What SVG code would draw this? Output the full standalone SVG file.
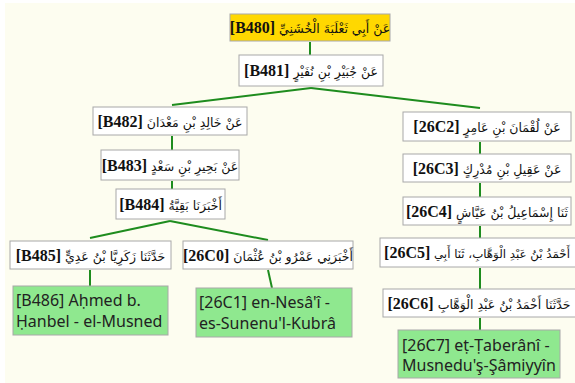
<svg xmlns="http://www.w3.org/2000/svg" width="575" height="383" viewBox="0 0 575 383">
  <style>
    .bg { fill: #fdfdf0; }
    .node rect { stroke: #a8a8a8; stroke-width: 1; fill: #ffffff; }
    .node.root rect { fill: #ffd800; }
    .node.book rect { fill: #8fe88f; }
    .lbl { direction: rtl; unicode-bidi: embed; text-anchor: middle; fill: #111; }
    .ar { font-family: "DejaVu Sans", sans-serif; font-size: 12.5px; font-weight: normal; }
    .ar.tight { font-size: 11.8px; }
    .id { font-family: "Liberation Serif", "Times New Roman", serif; font-size: 16px; font-weight: bold; }
    .book text { font-family: "Noto Sans", "Open Sans", sans-serif; font-size: 16px; fill: #222; }
    .edges line { stroke: #1e8c1e; stroke-width: 2; stroke-linecap: butt; }
  </style>

  <rect class="bg" x="5" y="3" width="570" height="380"/>

  <!-- connectors -->
  <g id="edges" class="edges">
    <line x1="310" y1="42" x2="310" y2="55"/>
    <line x1="311" y1="88" x2="172" y2="105"/>
    <line x1="311" y1="88" x2="480" y2="108"/>
    <line x1="172" y1="136" x2="172" y2="150"/>
    <line x1="172" y1="181" x2="172" y2="189"/>
    <line x1="170" y1="221" x2="90" y2="238"/>
    <line x1="170" y1="221" x2="268" y2="240"/>
    <line x1="90" y1="270" x2="90" y2="286"/>
    <line x1="268" y1="270" x2="272" y2="288"/>
    <line x1="480" y1="142" x2="480" y2="154"/>
    <line x1="480" y1="183" x2="480" y2="197"/>
    <line x1="480" y1="226" x2="480" y2="238"/>
    <line x1="480" y1="268" x2="480" y2="289"/>
    <line x1="480" y1="318" x2="480" y2="330"/>
  </g>

  <g id="B480" class="node root">
    <rect x="230" y="14" width="160" height="27"/>
    <text class="lbl" x="310" y="33"><tspan class="ar">عَنْ أَبِي ثَعْلَبَةَ الْخُشَنِيِّ </tspan><tspan class="id">[B480]</tspan></text>
  </g>
  <g id="B481" class="node">
    <rect x="239" y="55" width="144" height="31"/>
    <text class="lbl" x="311" y="76"><tspan class="ar">عَنْ جُبَيْرِ بْنِ نُفَيْرٍ </tspan><tspan class="id">[B481]</tspan></text>
  </g>
  <g id="B482" class="node">
    <rect x="93" y="107" width="154" height="28"/>
    <text class="lbl" x="170" y="127"><tspan class="ar">عَنْ خَالِدِ بْنِ مَعْدَانَ </tspan><tspan class="id">[B482]</tspan></text>
  </g>
  <g id="B483" class="node">
    <rect x="101" y="150" width="138" height="30"/>
    <text class="lbl" x="170" y="171"><tspan class="ar">عَنْ بَحِيرِ بْنِ سَعْدٍ </tspan><tspan class="id">[B483]</tspan></text>
  </g>
  <g id="B484" class="node">
    <rect x="116" y="189" width="109" height="30"/>
    <text class="lbl" x="170.5" y="210"><tspan class="ar">أَخْبَرَنَا بَقِيَّةُ </tspan><tspan class="id">[B484]</tspan></text>
  </g>
  <g id="B485" class="node">
    <rect x="10" y="241" width="161" height="28"/>
    <text class="lbl" x="90.5" y="261"><tspan class="ar">حَدَّثَنَا زَكَرِيَّا بْنُ عَدِيٍّ </tspan><tspan class="id">[B485]</tspan></text>
  </g>
  <g id="C26C0" class="node">
    <rect x="183" y="241" width="170" height="28"/>
    <text class="lbl" x="268" y="261"><tspan class="ar">أَخْبَرَنِي عَمْرُو بْنُ عُثْمَانَ </tspan><tspan class="id">[26C0]</tspan></text>
  </g>
  <g id="B486" class="node book">
    <rect x="13" y="286" width="155" height="49"/>
    <text x="16" y="306">[B486] Aḥmed b.</text>
    <text x="16" y="327">Ḥanbel - el-Musned</text>
  </g>
  <g id="C26C1" class="node book">
    <rect x="196" y="288" width="156" height="49"/>
    <text x="199" y="308">[26C1] en-Nesâ'î -</text>
    <text x="199" y="329">es-Sunenu'l-Kubrâ</text>
  </g>
  <g id="C26C2" class="node">
    <rect x="403" y="112" width="168" height="29"/>
    <text class="lbl" x="487" y="132"><tspan class="ar">عَنْ لُقْمَانَ بْنِ عَامِرٍ </tspan><tspan class="id">[26C2]</tspan></text>
  </g>
  <g id="C26C3" class="node">
    <rect x="403" y="154" width="168" height="28"/>
    <text class="lbl" x="487" y="174"><tspan class="ar">عَنْ عَقِيلِ بْنِ مُدْرِكٍ </tspan><tspan class="id">[26C3]</tspan></text>
  </g>
  <g id="C26C4" class="node">
    <rect x="403" y="197" width="168" height="28"/>
    <text class="lbl" x="487" y="217"><tspan class="ar">ثَنَا إِسْمَاعِيلُ بْنُ عَيَّاشٍ </tspan><tspan class="id">[26C4]</tspan></text>
  </g>
  <g id="C26C5" class="node">
    <rect x="380" y="238" width="200" height="29"/>
    <text class="lbl" x="477" y="258"><tspan class="ar tight">أَحْمَدُ بْنُ عَبْدِ الْوَهَّابِ، ثَنَا أَبِي </tspan><tspan class="id">[26C5]</tspan></text>
  </g>
  <g id="C26C6" class="node">
    <rect x="383" y="289" width="194" height="28"/>
    <text class="lbl" x="479" y="309"><tspan class="ar">حَدَّثَنَا أَحْمَدُ بْنُ عَبْدِ الْوَهَّابِ </tspan><tspan class="id">[26C6]</tspan></text>
  </g>
  <g id="C26C7" class="node book">
    <rect x="398" y="330" width="162" height="48"/>
    <text x="402" y="351">[26C7] eṭ-Ṭaberânî -</text>
    <text x="402" y="371">Musnedu'ş-Şâmiyyîn</text>
  </g>
</svg>
